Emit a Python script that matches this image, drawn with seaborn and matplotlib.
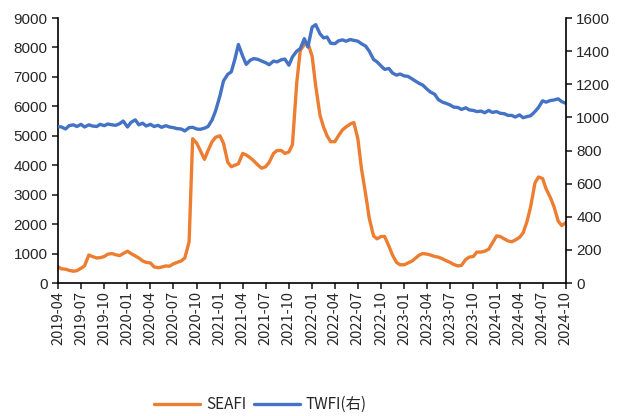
import pandas as pd
import seaborn as sns
import matplotlib.pyplot as plt
import matplotlib.dates as mdates

# semi-monthly readings, 2019-04-01 .. 2024-10-01
dates = pd.date_range('2019-04-01', '2024-10-01', freq='SMS')

seafi = [
    # 2019 Apr-Dec
    550, 480, 470, 430, 400, 420, 500, 580, 950, 900, 850, 860, 900, 980, 1000, 960, 930, 1000,
    # 2020
    1080, 1000, 920, 850, 750, 700, 680, 550, 520, 540, 580, 570, 650, 700, 750, 850, 1400, 4900,
    4750, 4500, 4200, 4500, 4800, 4950,
    # 2021
    5000, 4750, 4100, 3950, 4000, 4050, 4400, 4350, 4250, 4150, 4000, 3900, 3950, 4100, 4400, 4500,
    4500, 4400, 4450, 4700, 6800, 7900, 8100, 8150,
    # 2022
    7700, 6700, 5700, 5300, 5000, 4800, 4800, 5000, 5200, 5300, 5400, 5450, 4900, 3900, 3000, 2200,
    1600, 1500, 1580, 1580, 1250, 950, 700, 620,
    # 2023
    620, 680, 750, 850, 950, 1000, 980, 950, 900, 880, 820, 760, 700, 630, 580, 600, 800, 880,
    900, 1050, 1050, 1080, 1150, 1350,
    # 2024 Jan-Oct
    1600, 1580, 1500, 1430, 1400, 1460, 1550, 1700, 2100, 2600, 3400, 3600, 3550, 3200, 2900, 2600,
    2100, 1950, 2050,
]

twfi = [
    # 2019 Apr-Dec
    945, 942, 930, 950, 955, 945, 958, 942, 955, 948, 945, 958, 950, 960, 955, 952, 962, 978,
    # 2020
    942, 970, 985, 955, 965, 948, 958, 945, 952, 940, 950, 942, 938, 932, 930, 918, 938, 940,
    930, 928, 935, 945, 985, 1040,
    # 2021
    1130, 1220, 1260, 1275, 1350, 1440, 1370, 1320, 1345, 1355, 1350, 1340, 1330, 1318, 1340, 1335,
    1348, 1352, 1315, 1365, 1400, 1415, 1475, 1425,
    # 2022
    1545, 1560, 1505, 1480, 1485, 1448, 1445, 1462, 1468, 1460, 1470, 1465, 1460, 1445, 1430, 1400,
    1350, 1335, 1310, 1290, 1295, 1268, 1255, 1262,
    # 2023
    1250, 1248, 1232, 1218, 1205, 1195, 1170, 1152, 1140, 1108, 1092, 1085, 1075, 1062, 1060, 1048,
    1058, 1045, 1042, 1035, 1038, 1028, 1042, 1030,
    # 2024 Jan-Oct
    1035, 1025, 1022, 1012, 1012, 1002, 1015, 998, 1005, 1010, 1035, 1060, 1100, 1092, 1102, 1105,
    1112, 1095, 1085,
]

df = pd.DataFrame({'date': dates, 'SEAFI': seafi, 'TWFI': twfi})

sns.set_style('ticks')
plt.rcParams['font.family'] = ['Liberation Sans', 'Noto Sans CJK SC', 'DejaVu Sans']

fig = plt.figure(figsize=(6.17, 4.16), dpi=100)
ax = fig.add_axes([0.094, 0.3197, 0.823, 0.637])
ax2 = ax.twinx()

sns.lineplot(data=df, x='date', y='SEAFI', ax=ax, color='#ED7D31', linewidth=2.4, label='SEAFI', legend=False)
sns.lineplot(data=df, x='date', y='TWFI', ax=ax2, color='#4472C4', linewidth=2.4, label='TWFI(右)', legend=False)

ax.set_xlim(dates[0], dates[-1])
ax.set_ylim(0, 9000)
ax2.set_ylim(0, 1600)
ax.set_yticks(range(0, 9001, 1000))
ax2.set_yticks(range(0, 1601, 200))

ax.xaxis.set_major_locator(mdates.MonthLocator(bymonth=[1, 4, 7, 10]))
ax.xaxis.set_major_formatter(mdates.DateFormatter('%Y-%m'))
for lab in ax.get_xticklabels():
    lab.set_rotation(90)
    lab.set_fontfamily(['Noto Sans CJK SC'])
    lab.set_fontsize(10.5)

ax.set_xlabel('')
ax.set_ylabel('')
ax2.set_ylabel('')
ax.tick_params(axis='y', labelsize=11, length=4, width=1.2, direction='out')
ax2.tick_params(axis='y', labelsize=11, length=4, width=1.2, direction='out')
ax.tick_params(axis='x', length=4, width=1.2, direction='out', pad=2)

for a in (ax, ax2):
    a.spines['top'].set_visible(False)
    for s in ('left', 'right', 'bottom'):
        a.spines[s].set_linewidth(1.2)
        a.spines[s].set_color('black')
ax.spines['right'].set_visible(False)
ax2.spines['left'].set_visible(False)
ax2.spines['bottom'].set_visible(False)

h1, l1 = ax.get_legend_handles_labels()
h2, l2 = ax2.get_legend_handles_labels()
fig.legend(h1 + h2, l1 + l2, loc='center', bbox_to_anchor=(0.422, 0.027), ncol=2, frameon=False,
           prop={'family': ['Noto Sans CJK SC'], 'size': 11}, handlelength=3.0, columnspacing=0.5,
           handletextpad=0.4)

fig.savefig('out.png', dpi=100)
